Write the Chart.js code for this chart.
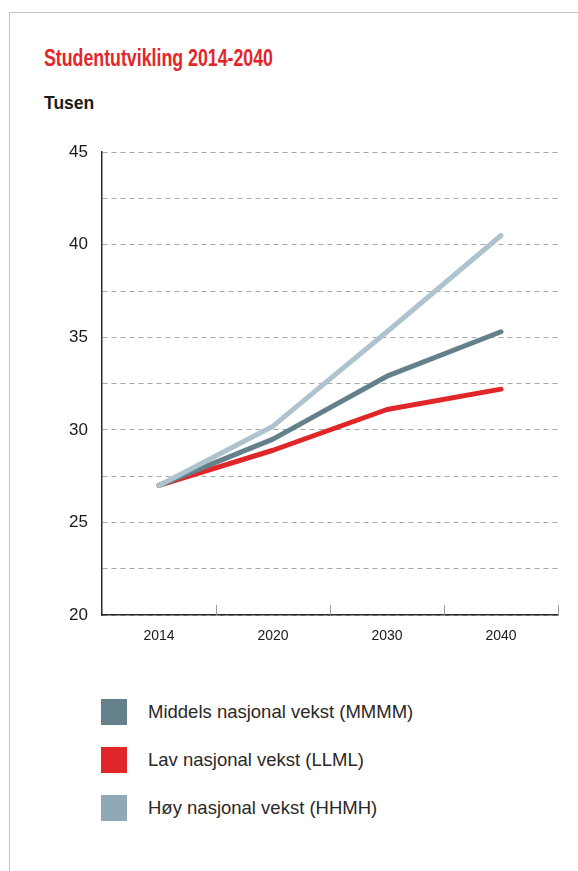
<!DOCTYPE html>
<html>
<head>
<meta charset="utf-8">
<script src="https://cdn.jsdelivr.net/npm/chart.js@4"></script>
<style>
  body { margin: 0; background: #fff; width: 578px; height: 871px; position: relative; overflow: hidden; font-family: "Liberation Sans", Arial, sans-serif; }
  .frame { position: absolute; left: 9px; top: 12px; right: -2px; bottom: -2px; border-left: 1.5px solid #c4c4c4; border-top: 1.5px solid #c4c4c4; }
  .title { position: absolute; left: 44px; top: 44px; color: #e2262a; font-weight: bold; font-size: 24px; white-space: nowrap; transform: scaleX(0.74); transform-origin: 0 0; }
  .unit { position: absolute; left: 44px; top: 93px; color: #1a1a1a; font-weight: bold; font-size: 17.5px; }
  .chart-box { position: absolute; left: 40px; top: 128px; width: 530px; height: 527px; }
  .legend { position: absolute; left: 101px; top: 699px; }
  .legend .row { display: flex; align-items: flex-start; height: 48px; }
  .legend .sw { width: 26px; height: 26px; margin-right: 21px; }
  .legend .lbl { font-size: 18.5px; line-height: 26px; color: #2b2825; white-space: nowrap; }
</style>
</head>
<body>
<div class="frame"></div>
<div class="title">Studentutvikling 2014-2040</div>
<div class="unit">Tusen</div>
<div class="chart-box"><canvas id="lineChart"></canvas></div>
<div class="legend" id="legend"></div>

<script>
// data
const years = ['2014', '2020', '2030', '2040'];
const middels = [27.0, 29.5, 32.9, 35.3];
const lav = [27.0, 28.9, 31.1, 32.2];
const hoy = [27.0, 30.2, 35.3, 40.5];
const seriesNames = ['Middels nasjonal vekst (MMMM)', 'Lav nasjonal vekst (LLML)', 'Høy nasjonal vekst (HHMH)'];
const yTicks = [20, 25, 30, 35, 40, 45];

const lineColors = ['#64808b', '#e1262a', '#adc4ce'];
const swatchColors = ['#64808b', '#e1262a', '#8fa9b6'];

// small tick marks pointing up from the x axis, at category boundaries
const innerTicks = {
    id: 'innerTicks',
    afterDatasetsDraw(chart) {
        const x = chart.scales.x;
        const ctx = chart.ctx;
        const half = (x.getPixelForValue(1) - x.getPixelForValue(0)) / 2;
        ctx.save();
        ctx.strokeStyle = '#9a9a9a';
        ctx.lineWidth = 1;
        years.forEach((_, i) => {
            const px = Math.round(x.getPixelForValue(i) + half) + 0.5;
            ctx.beginPath();
            ctx.moveTo(px, x.top);
            ctx.lineTo(px, x.top - 10);
            ctx.stroke();
        });
        ctx.restore();
    }
};

const ctx = document.getElementById('lineChart').getContext('2d');
new Chart(ctx, {
    type: 'line',
    data: {
        labels: years,
        datasets: [
            { label: seriesNames[2], data: hoy, borderColor: lineColors[2] },
            { label: seriesNames[0], data: middels, borderColor: lineColors[0] },
            { label: seriesNames[1], data: lav, borderColor: lineColors[1] },
        ].map(d => ({ ...d, borderWidth: 5, pointRadius: 0, tension: 0, borderCapStyle: 'round', borderJoinStyle: 'round', fill: false })),
    },
    options: {
        animation: false,
        responsive: true,
        maintainAspectRatio: false,
        layout: { padding: { top: 10, right: 12, left: 0, bottom: 0 } },
        plugins: {
            legend: { display: false },
            tooltip: { enabled: false },
        },
        scales: {
            x: {
                offset: true,
                grid: { display: false, drawTicks: false },
                border: { display: true, color: '#2e2a26', width: 1.5 },
                ticks: { color: '#1a1a1a', font: { family: 'Liberation Sans', size: 14 }, padding: 13 },
                afterFit(scale) { scale.height = 40; },
            },
            y: {
                min: 20,
                max: 45,
                ticks: {
                    stepSize: 2.5,
                    color: '#1a1a1a',
                    font: { family: 'Liberation Sans', size: 17 },
                    padding: 14,
                    callback: v => (yTicks.includes(v) ? String(v) : ''),
                },
                grid: { color: '#a8a8a8', lineWidth: 1, drawTicks: false },
                border: { display: true, color: '#2e2a26', width: 1.5, dash: [5, 4] },
                afterFit(scale) { scale.width = 62; },
            },
        },
    },
    plugins: [innerTicks],
});

// legend
const legend = document.getElementById('legend');
seriesNames.forEach((name, i) => {
    const row = document.createElement('div');
    row.className = 'row';
    row.innerHTML = '<div class="sw" style="background:' + swatchColors[i] + '"></div><div class="lbl">' + name + '</div>';
    legend.appendChild(row);
});
</script>
</body>
</html>
